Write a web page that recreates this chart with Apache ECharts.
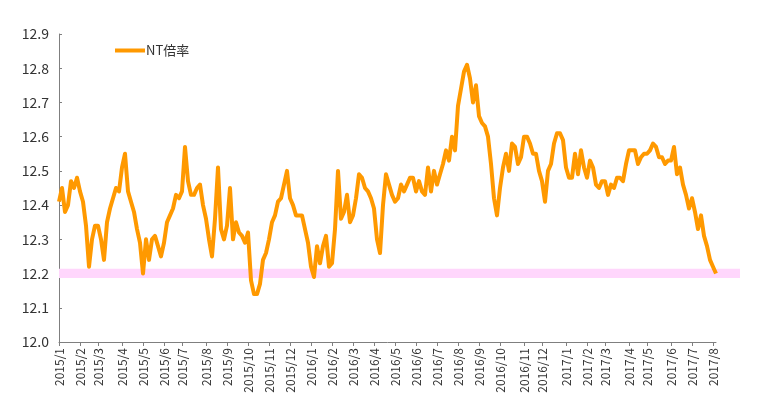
<!DOCTYPE html>
<html>
<head>
<meta charset="utf-8">
<script src="https://cdn.jsdelivr.net/npm/echarts@6/dist/echarts.min.js"></script>
<style>
  html, body { margin: 0; padding: 0; background: #fff; }
  #chart { width: 780px; height: 418px; }
</style>
</head>
<body>
<div id="chart"></div>
<script>
// month labels on the category axis
const months = [
  '2015/1', '2015/2', '2015/3', '2015/4', '2015/5', '2015/6', '2015/7', '2015/8', '2015/9', '2015/10', '2015/11', '2015/12',
  '2016/1', '2016/2', '2016/3', '2016/4', '2016/5', '2016/6', '2016/7', '2016/8', '2016/9', '2016/10', '2016/11', '2016/12',
  '2017/1', '2017/2', '2017/3', '2017/4', '2017/5', '2017/6', '2017/7', '2017/8'
]

// NT倍率, sampled values per month
const values2015 = [
  [12.41, 12.45, 12.38, 12.40, 12.47, 12.45, 12.48],
  [12.44, 12.41, 12.34, 12.22, 12.30, 12.34],
  [12.34, 12.30, 12.24, 12.35, 12.39, 12.42, 12.45, 12.44],
  [12.51, 12.55, 12.44, 12.41, 12.38, 12.33, 12.29],
  [12.20, 12.30, 12.24, 12.30, 12.31, 12.28, 12.25],
  [12.29, 12.35, 12.37, 12.39, 12.43, 12.42],
  [12.44, 12.57, 12.47, 12.43, 12.43, 12.45, 12.46, 12.40],
  [12.36, 12.30, 12.25, 12.36, 12.51, 12.33, 12.30],
  [12.34, 12.45, 12.30, 12.35, 12.32, 12.31, 12.29],
  [12.32, 12.18, 12.14, 12.14, 12.17, 12.24, 12.26],
  [12.30, 12.35, 12.37, 12.41, 12.42, 12.46, 12.50],
  [12.42, 12.40, 12.37, 12.37, 12.37, 12.33, 12.29]
]
const values2016 = [
  [12.22, 12.19, 12.28, 12.23, 12.28, 12.31, 12.22],
  [12.23, 12.33, 12.50, 12.36, 12.38, 12.43, 12.35],
  [12.37, 12.42, 12.49, 12.48, 12.45, 12.44, 12.42],
  [12.39, 12.30, 12.26, 12.40, 12.49, 12.46, 12.43],
  [12.41, 12.42, 12.46, 12.44, 12.46, 12.48, 12.48],
  [12.44, 12.47, 12.44, 12.43, 12.51, 12.44, 12.50],
  [12.46, 12.49, 12.52, 12.56, 12.53, 12.60, 12.56],
  [12.69, 12.74, 12.79, 12.81, 12.77, 12.70, 12.75],
  [12.66, 12.64, 12.63, 12.60, 12.52, 12.42, 12.37],
  [12.45, 12.51, 12.55, 12.50, 12.58, 12.57, 12.52, 12.54],
  [12.60, 12.60, 12.58, 12.55, 12.55, 12.50],
  [12.47, 12.41, 12.50, 12.52, 12.58, 12.61, 12.61, 12.59]
]
const values2017 = [
  [12.51, 12.48, 12.48, 12.55, 12.49, 12.56, 12.51],
  [12.48, 12.53, 12.51, 12.46, 12.45, 12.47],
  [12.47, 12.43, 12.46, 12.45, 12.48, 12.48, 12.47, 12.52],
  [12.56, 12.56, 12.56, 12.52, 12.54, 12.55],
  [12.55, 12.56, 12.58, 12.57, 12.54, 12.54, 12.52, 12.53],
  [12.53, 12.57, 12.49, 12.51, 12.46, 12.43, 12.39],
  [12.42, 12.38, 12.33, 12.37, 12.31, 12.28, 12.24],
  [12.22, 12.20]
]

// shaded band (pink)
const bandRange = [12.187, 12.214]

const yTicks = { min: 12.0, max: 12.9, interval: 0.1 }

const monthly = [...values2015, ...values2016, ...values2017]
const categories = []
const seriesData = []
const monthStart = new Set()
monthly.forEach((arr, m) => {
  monthStart.add(categories.length)
  arr.forEach((v, k) => {
    categories.push(k === 0 ? months[m] : months[m] + '-' + k)
    seriesData.push(v)
  })
})
const isMonthStart = (idx) => monthStart.has(idx)

const FONT = '"Noto Sans CJK JP", "Liberation Sans", sans-serif'
const TEXT = '#333'
const AXIS = '#7f7f7f'
const ORANGE = '#FF9900'

const chart = echarts.init(document.getElementById('chart'))
chart.setOption({
  animation: false,
  textStyle: { fontFamily: FONT },
  legend: {
    data: [{ name: 'NT倍率', icon: 'rect', itemStyle: { color: ORANGE } }],
    left: 115,
    top: 44,
    itemWidth: 30,
    itemHeight: 4,
    itemGap: 0,
    padding: 0,
    textStyle: { fontSize: 13, color: TEXT, fontFamily: FONT, padding: [0, 0, 0, -4] }
  },
  grid: [
    { left: 59, right: 64, top: 34, bottom: 76 },
    { left: 59, right: 40, top: 34, bottom: 76 }
  ],
  xAxis: [
    {
      type: 'category',
      gridIndex: 0,
      data: categories,
      boundaryGap: false,
      axisLine: { lineStyle: { color: AXIS, width: 1 } },
      axisTick: { interval: isMonthStart, length: 4, lineStyle: { color: AXIS } },
      axisLabel: {
        interval: isMonthStart,
        rotate: 90,
        margin: 6,
        fontSize: 12,
        color: TEXT,
        fontFamily: FONT,
        formatter: v => v.split('-')[0]
      },
      splitLine: { show: false }
    },
    {
      type: 'value',
      gridIndex: 1,
      min: 0,
      max: 1,
      show: false
    }
  ],
  yAxis: [
    {
      type: 'value',
      gridIndex: 0,
      min: yTicks.min,
      max: yTicks.max,
      interval: yTicks.interval,
      axisLine: { show: true, lineStyle: { color: AXIS, width: 1 } },
      axisTick: { show: true, inside: true, length: 3, lineStyle: { color: AXIS } },
      axisLabel: {
        margin: 10,
        fontSize: 14,
        color: TEXT,
        fontFamily: FONT,
        formatter: v => v.toFixed(1)
      },
      splitLine: { show: false }
    },
    {
      type: 'value',
      gridIndex: 1,
      min: yTicks.min,
      max: yTicks.max,
      show: false
    }
  ],
  series: [
    {
      name: 'band',
      type: 'line',
      xAxisIndex: 1,
      yAxisIndex: 1,
      data: [[0, bandRange[0]]],
      showSymbol: false,
      lineStyle: { opacity: 0 },
      silent: true,
      z: 1,
      markArea: {
        silent: true,
        itemStyle: { color: '#FFD6FC' },
        data: [[{ yAxis: bandRange[0] }, { yAxis: bandRange[1] }]]
      }
    },
    {
      name: 'NT倍率',
      type: 'line',
      data: seriesData,
      showSymbol: false,
      symbol: 'none',
      smooth: false,
      z: 3,
      color: ORANGE,
      lineStyle: { color: ORANGE, width: 4, join: 'round' }
    }
  ]
})
</script>
</body>
</html>
